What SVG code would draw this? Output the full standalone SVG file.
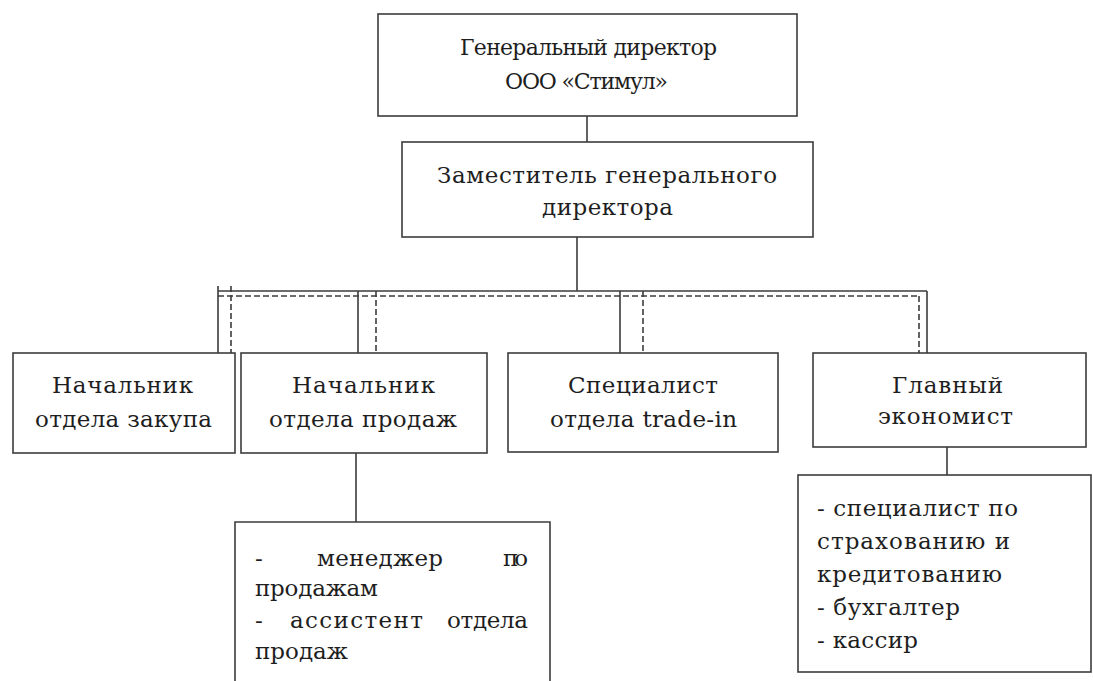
<svg xmlns="http://www.w3.org/2000/svg" width="1093" height="681" viewBox="0 0 1093 681" font-family="DejaVu Serif, serif" font-size="23">
<style>
.box{fill:#fff;stroke:#3c3c3c;stroke-width:1.6}
.ln{fill:none;stroke:#3c3c3c;stroke-width:1.6}
.dl{fill:none;stroke:#3c3c3c;stroke-width:1.6;stroke-dasharray:6 3}
text{fill:#1e1e1e}
</style>
<rect width="1093" height="681" fill="#fff"/>
<g id="connectors">
<path class="ln" d="M587,116V142M577,237V291M218,291H927M218,286V353M358,291V358M620,291V353M927,291V353M356,453V522M947,447V475"/>
<path class="dl" d="M218,296H920M231,286V353M376,291V358M643,291V353M919,296V353"/>
</g>
<g id="gen-director">
<rect class="box" x="378" y="14" width="419" height="102"/>
<text x="460" y="55" font-size="22" textLength="257" lengthAdjust="spacing">Генеральный директор</text>
<text x="505" y="89" font-size="22" textLength="163" lengthAdjust="spacing">ООО «Стимул»</text>
</g>
<g id="deputy">
<rect class="box" x="402" y="142" width="411" height="95"/>
<text x="437" y="183" textLength="340" lengthAdjust="spacing">Заместитель генерального</text>
<text x="542" y="215" textLength="131" lengthAdjust="spacing">директора</text>
</g>
<g id="purchase">
<rect class="box" x="13" y="353" width="222" height="100"/>
<text x="52" y="393" textLength="141" lengthAdjust="spacing">Начальник</text>
<text x="35" y="427" textLength="177" lengthAdjust="spacing">отдела закупа</text>
</g>
<g id="sales">
<rect class="box" x="241" y="353" width="246" height="100"/>
<text x="292" y="393" textLength="143" lengthAdjust="spacing">Начальник</text>
<text x="269" y="427" textLength="188" lengthAdjust="spacing">отдела продаж</text>
</g>
<g id="tradein">
<rect class="box" x="508" y="353" width="270" height="99"/>
<text x="568" y="393" textLength="150" lengthAdjust="spacing">Специалист</text>
<text x="550" y="427" textLength="187" lengthAdjust="spacing">отдела trade-in</text>
</g>
<g id="economist">
<rect class="box" x="813" y="353" width="273" height="94"/>
<text x="892" y="393" textLength="111" lengthAdjust="spacing">Главный</text>
<text x="878" y="424" textLength="135" lengthAdjust="spacing">экономист</text>
</g>
<g id="sales-staff">
<path class="ln" d="M235,690V522H550V690"/>
<text x="255" y="566">-</text>
<text x="317" y="566" textLength="126" lengthAdjust="spacing">менеджер</text>
<text x="503" y="566" textLength="25" lengthAdjust="spacing">по</text>
<text x="255" y="596" textLength="123" lengthAdjust="spacing">продажам</text>
<text x="255" y="628">-</text>
<text x="290" y="628" textLength="133" lengthAdjust="spacing">ассистент</text>
<text x="447" y="628" textLength="81" lengthAdjust="spacing">отдела</text>
<text x="255" y="659" textLength="93" lengthAdjust="spacing">продаж</text>
</g>
<g id="economist-staff">
<rect class="box" x="798" y="475" width="293" height="197"/>
<text x="817" y="516" textLength="201" lengthAdjust="spacing">- специалист по</text>
<text x="817" y="549" textLength="193" lengthAdjust="spacing">страхованию и</text>
<text x="817" y="582" textLength="185" lengthAdjust="spacing">кредитованию</text>
<text x="817" y="615" textLength="143" lengthAdjust="spacing">- бухгалтер</text>
<text x="817" y="648" textLength="101" lengthAdjust="spacing">- кассир</text>
</g>
</svg>
